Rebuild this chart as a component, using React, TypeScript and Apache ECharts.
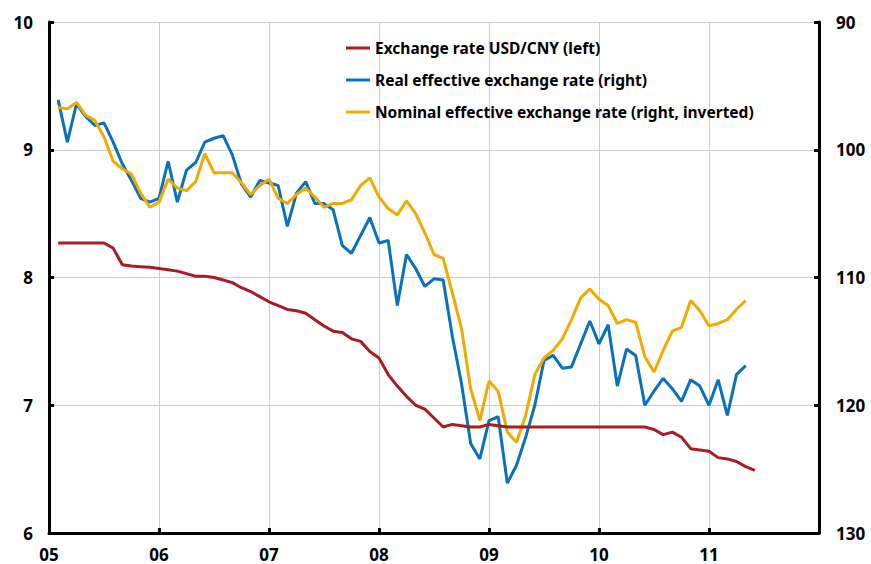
import React, { useEffect, useRef } from "react";
import * as echarts from "echarts";

const START_YEAR = 2005;
const yearTicks = ["05", "06", "07", "08", "09", "10", "11"];
const seriesNames = [
  "Exchange rate USD/CNY (left)",
  "Real effective exchange rate (right)",
  "Nominal effective exchange rate (right, inverted)",
];

// Monthly, from Jan 2005
const usdCny = [
  8.27, 8.27, 8.27, 8.27, 8.27, 8.27, 8.23, 8.10, 8.09, 8.085, 8.08, 8.07,
  8.06, 8.05, 8.03, 8.01, 8.01, 8.00, 7.98, 7.96, 7.92, 7.89, 7.85, 7.81,
  7.78, 7.75, 7.74, 7.72, 7.67, 7.62, 7.58, 7.57, 7.52, 7.50, 7.42, 7.37,
  7.24, 7.15, 7.07, 7.00, 6.97, 6.90, 6.83, 6.85, 6.84, 6.83, 6.83, 6.85,
  6.84, 6.83, 6.83, 6.83, 6.83, 6.83, 6.83, 6.83, 6.83, 6.83, 6.83, 6.83,
  6.83, 6.83, 6.83, 6.83, 6.83, 6.81, 6.77, 6.79, 6.75, 6.66, 6.65, 6.64,
  6.59, 6.58, 6.56, 6.52, 6.49,
];

const reer = [
  96.1, 99.4, 96.4, 97.4, 98.1, 97.9, 99.4, 101.1, 102.4, 103.8, 104.1, 103.8,
  100.9, 104.1, 101.6, 101.0, 99.4, 99.1, 98.9, 100.4, 102.7, 103.7, 102.4, 102.6,
  102.8, 106.0, 103.4, 102.5, 104.2, 104.2, 104.7, 107.5, 108.1, 106.7, 105.3, 107.3,
  107.1, 112.2, 108.2, 109.3, 110.7, 110.1, 110.2, 114.6, 118.3, 123.0, 124.2, 121.2,
  120.9, 126.1, 124.7, 122.5, 120.0, 116.5, 116.1, 117.1, 117.0, 115.2, 113.4, 115.2,
  113.7, 118.5, 115.6, 116.1, 120.0, 118.9, 117.9, 118.7, 119.7, 118.0, 118.5, 120.0,
  118.0, 120.8, 117.6, 116.9,
];

const neer = [
  96.7, 96.8, 96.3, 97.3, 97.7, 99.0, 100.9, 101.5, 101.9, 103.4, 104.5, 104.1,
  102.3, 103.0, 103.2, 102.5, 100.3, 101.8, 101.8, 101.8, 102.6, 103.5, 102.8, 102.3,
  103.8, 104.2, 103.5, 103.0, 103.7, 104.5, 104.2, 104.2, 103.9, 102.8, 102.2, 103.7,
  104.6, 105.1, 104.0, 105.0, 106.5, 108.2, 108.5, 111.2, 114.0, 118.7, 121.2, 118.1,
  118.9, 122.1, 122.9, 120.8, 117.6, 116.3, 115.7, 114.8, 113.3, 111.6, 110.9, 111.7,
  112.2, 113.6, 113.3, 113.5, 116.2, 117.4, 115.7, 114.2, 113.9, 111.8, 112.6, 113.8,
  113.6, 113.3, 112.5, 111.8,
];

const toPairs = (vals: number[]) =>
  vals.map((v, i) => [START_YEAR + (i + 1) / 12, v]);

const FONT = "'Noto Sans', sans-serif";

export default function App() {
  const ref = useRef<HTMLDivElement>(null);
  useEffect(() => {
    document.body.style.margin = "0";
    const chart = echarts.init(ref.current!, null, { renderer: "svg" });
    const axisLabel = {
      color: "#000",
      fontWeight: "bold" as const,
      fontSize: 17,
      fontFamily: FONT,
    };
    chart.setOption({
      animation: false,
      backgroundColor: "#fff",
      grid: { left: 49, right: 52, top: 22, bottom: 31, containLabel: false },
      legend: {
        orient: "vertical",
        left: 341,
        top: 34,
        itemWidth: 24,
        itemHeight: 3,
        itemGap: 14,
        icon: "rect",
        data: seriesNames,
        textStyle: {
          color: "#000",
          fontWeight: "bold",
          fontSize: 15.5,
          lineHeight: 18,
          fontFamily: FONT,
        },
      },
      xAxis: {
        type: "value",
        min: START_YEAR,
        max: START_YEAR + 7,
        interval: 1,
        axisLine: { show: true, lineStyle: { color: "#000", width: 3 } },
        axisTick: { show: true, inside: true, length: 5, lineStyle: { color: "#000", width: 3 } },
        splitLine: { show: true, lineStyle: { color: "#cccccc", width: 1 } },
        axisLabel: {
          ...axisLabel,
          margin: 13,
          lineHeight: 16,
          formatter: (v: number) => {
            const idx = Math.round(v - START_YEAR);
            return yearTicks[idx] ?? "";
          },
        },
      },
      yAxis: [
        {
          type: "value",
          min: 6,
          max: 10,
          interval: 1,
          position: "left",
          axisLine: { show: true, lineStyle: { color: "#000", width: 3 } },
          axisTick: { show: true, inside: true, length: 5, lineStyle: { color: "#000", width: 3 } },
          splitLine: { show: true, lineStyle: { color: "#cccccc", width: 1 } },
          axisLabel: { ...axisLabel, margin: 16 },
        },
        {
          type: "value",
          min: 90,
          max: 130,
          interval: 10,
          inverse: true,
          position: "right",
          axisLine: { show: true, lineStyle: { color: "#000", width: 3 } },
          axisTick: { show: true, inside: true, length: 5, lineStyle: { color: "#000", width: 3 } },
          splitLine: { show: false },
          axisLabel: { ...axisLabel, margin: 17 },
        },
      ],
      series: [
        {
          name: seriesNames[0],
          type: "line",
          yAxisIndex: 0,
          data: toPairs(usdCny),
          showSymbol: false,
          symbol: "none",
          color: "#A81C24",
          lineStyle: { width: 3, color: "#A81C24" },
          z: 3,
        },
        {
          name: seriesNames[1],
          type: "line",
          yAxisIndex: 1,
          data: toPairs(reer),
          showSymbol: false,
          symbol: "none",
          color: "#0A72BA",
          lineStyle: { width: 3, color: "#0A72BA" },
          z: 2,
        },
        {
          name: seriesNames[2],
          type: "line",
          yAxisIndex: 1,
          data: toPairs(neer),
          showSymbol: false,
          symbol: "none",
          color: "#F0AA00",
          lineStyle: { width: 3, color: "#F0AA00" },
          z: 2,
        },
      ],
    });
    return () => chart.dispose();
  }, []);
  return <div ref={ref} style={{ width: 871, height: 564 }} />;
}
